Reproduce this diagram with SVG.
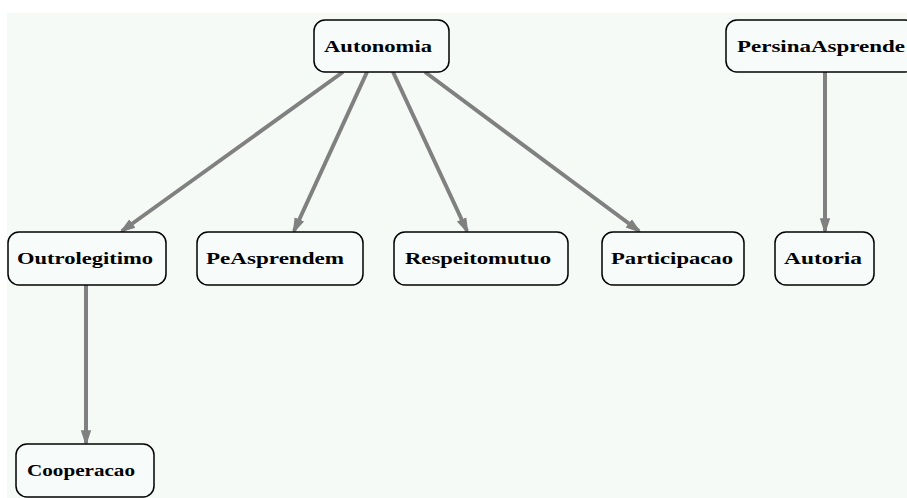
<svg xmlns="http://www.w3.org/2000/svg" width="907" height="498" viewBox="0 0 907 498">
<style>
.n rect{fill:#f7fbf9;stroke:#000;stroke-width:1.5}
.n text{font-family:"Liberation Serif","DejaVu Serif",serif;font-weight:bold;font-size:17px;fill:#000}
.e line{stroke:#808080;stroke-width:4;marker-end:url(#ah)}
</style>
<defs>
<marker id="ah" markerWidth="4" markerHeight="4" refX="3.2" refY="2" orient="auto" markerUnits="strokeWidth" viewBox="0 0 4 4">
<path d="M0,0.7 L4,2 L0,3.3 Z" fill="#808080"/>
</marker>
</defs>
<rect x="0" y="0" width="907" height="498" fill="#ffffff"/>
<rect x="7" y="13" width="900" height="485" fill="#f5faf7"/>
<g class="e" id="connectors">
<line x1="343" y1="72" x2="122" y2="231"/>
<line x1="367" y1="72" x2="294" y2="231"/>
<line x1="393" y1="72" x2="467" y2="231"/>
<line x1="425" y1="72" x2="639" y2="231"/>
<line x1="825" y1="72" x2="825" y2="231"/>
<line x1="86" y1="285" x2="86" y2="443"/>
</g>
<g class="n" id="Autonomia"><rect x="314" y="20" width="135" height="52" rx="11"/><text x="324" y="52" textLength="108" lengthAdjust="spacingAndGlyphs">Autonomia</text></g>
<g class="n" id="PersinaAsprende"><rect x="726" y="20" width="190" height="52" rx="11"/><text x="737" y="52" textLength="168" lengthAdjust="spacingAndGlyphs">PersinaAsprende</text></g>
<g class="n" id="Outrolegitimo"><rect x="8" y="232" width="158" height="53" rx="11"/><text x="17" y="264" textLength="136" lengthAdjust="spacingAndGlyphs">Outrolegitimo</text></g>
<g class="n" id="PeAsprendem"><rect x="197" y="232" width="166" height="53" rx="11"/><text x="206" y="264" textLength="138" lengthAdjust="spacingAndGlyphs">PeAsprendem</text></g>
<g class="n" id="Respeitomutuo"><rect x="394" y="232" width="174" height="53" rx="11"/><text x="405" y="264" textLength="146" lengthAdjust="spacingAndGlyphs">Respeitomutuo</text></g>
<g class="n" id="Participacao"><rect x="602" y="232" width="142" height="53" rx="11"/><text x="611" y="264" textLength="122" lengthAdjust="spacingAndGlyphs">Participacao</text></g>
<g class="n" id="Autoria"><rect x="775" y="232" width="99" height="53" rx="11"/><text x="784" y="264" textLength="78" lengthAdjust="spacingAndGlyphs">Autoria</text></g>
<g class="n" id="Cooperacao"><rect x="16" y="444" width="138" height="53" rx="11"/><text x="27" y="476" textLength="108" lengthAdjust="spacingAndGlyphs">Cooperacao</text></g>
</svg>
